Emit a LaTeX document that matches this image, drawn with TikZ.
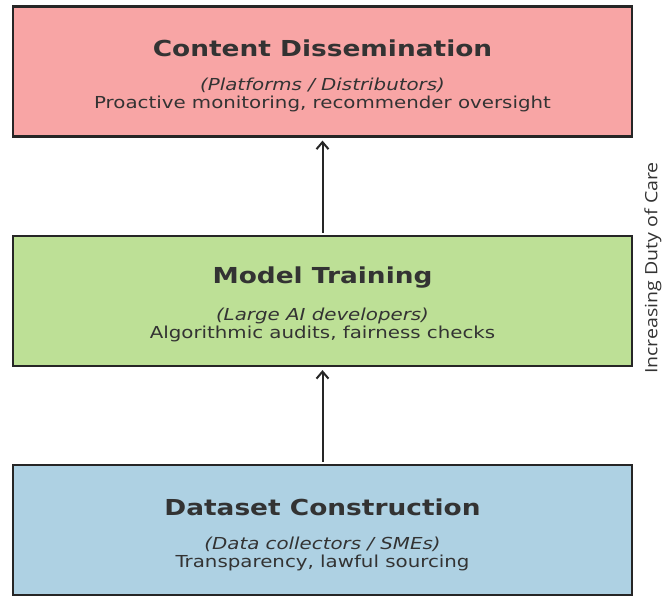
\documentclass[tikz,border=0pt]{standalone}
\usepackage{fontspec}
\setmainfont{DejaVu Sans}[FakeStretch=1.2]
\newfontfamily\sidefont{Open Sans}[FakeStretch=1.15]
\usepackage{xcolor}
\usetikzlibrary{arrows.meta,positioning,calc}

\definecolor{dissfill}{RGB}{248,165,165}
\definecolor{trainfill}{RGB}{189,224,150}
\definecolor{datafill}{RGB}{174,209,227}
\definecolor{txtgray}{RGB}{51,51,51}

\tikzset{
  stagebox/.style={draw=black!85, line width=2.2pt, minimum width=619pt,
    minimum height=130pt, inner sep=0pt},
  stagetitle/.style={text=txtgray, font=\fontsize{22}{26}\selectfont\bfseries},
  stagebody/.style={text=txtgray, align=center,
    font=\fontsize{16.5}{18}\selectfont},
  uparrow/.style={-{Straight Barb[length=7pt,width=12pt]}, line width=2pt,
    draw=black!85}
}

\begin{document}
\begin{tikzpicture}[x=1pt, y=1pt]
    \useasboundingbox (0,0) rectangle (665,-596);
    % the three stages, bottom to top
    \node[stagebox, fill=dissfill] (diss) at (322.5,-71.5) {};
    \node[stagebox, fill=trainfill] (train) at (322.5,-301) {};
    \node[stagebox, fill=datafill] (data) at (322.5,-530) {};

    \node[stagetitle] (disstitle) at ($(diss.center)+(0,23)$)
      {Content Dissemination};
    \node[stagebody] (dissbody) at ($(diss.center)+(0,-23.5)$)
      {\itshape (Platforms / Distributors)\\ Proactive monitoring, recommender oversight};

    \node[stagetitle] (traintitle) at ($(train.center)+(0,23)$)
      {Model Training};
    \node[stagebody] (trainbody) at ($(train.center)+(0,-23.5)$)
      {\itshape (Large AI developers)\\ Algorithmic audits, fairness checks};

    \node[stagetitle] (datatitle) at ($(data.center)+(0,23)$)
      {Dataset Construction};
    \node[stagebody] (databody) at ($(data.center)+(0,-23.5)$)
      {\itshape (Data collectors / SMEs)\\ Transparency, lawful sourcing};

    \draw[uparrow] ([yshift=2pt]data.north) -- ([yshift=-3pt]train.south);
    \draw[uparrow] ([yshift=2pt]train.north) -- ([yshift=-3pt]diss.south);

    \node[rotate=90, text=txtgray, font=\sidefont\fontsize{17}{19}\selectfont]
      (duty) at (653,-268) {Increasing Duty of Care};
\end{tikzpicture}
\end{document}
